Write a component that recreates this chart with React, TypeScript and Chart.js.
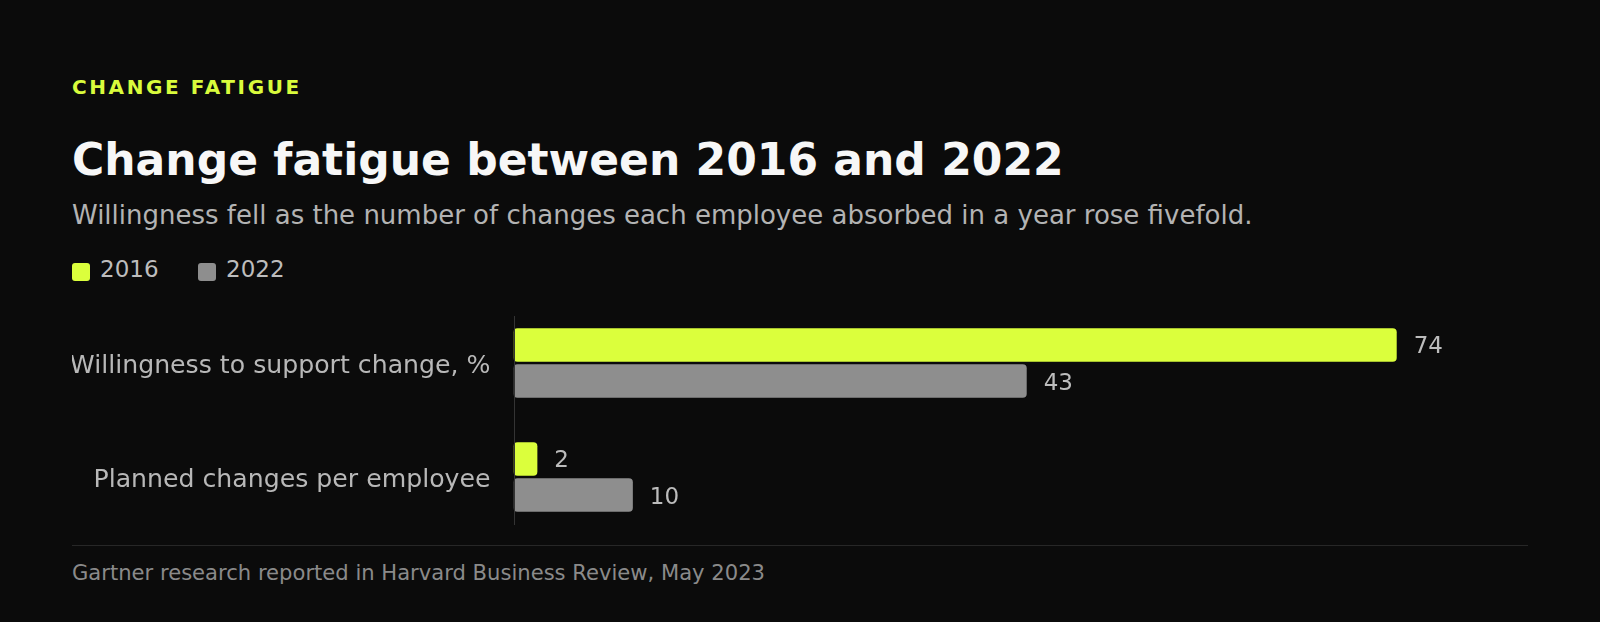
import React, { useEffect, useRef } from "react";
import { Chart, registerables } from "chart.js";

Chart.register(...registerables);

// chart data
const categories = ["Willingness to support change, %", "Planned changes per employee"];
const seriesNames = ["2016", "2022"];
const values2016 = [74, 2];
const values2022 = [43, 10];
const seriesColors = ["#dbff3c", "#8e8e8e"];

const FONT = "'DejaVu Sans', Verdana, sans-serif";

// baseline rule, category names and the value next to each bar
const barExtras = {
    id: "barExtras",
    afterDatasetsDraw(chart: any) {
        const { ctx, chartArea } = chart;
        const x0 = chart.scales.x.getPixelForValue(0);
        const yScale = chart.scales.y;
        ctx.save();
        ctx.strokeStyle = "#343434";
        ctx.lineWidth = 1;
        ctx.beginPath();
        ctx.moveTo(Math.round(x0) + 0.5, chartArea.top + 10);
        ctx.lineTo(Math.round(x0) + 0.5, chartArea.bottom - 9);
        ctx.stroke();

        // category labels
        ctx.font = `25.2px ${FONT}`;
        ctx.fillStyle = "#b8b8b8";
        ctx.textAlign = "right";
        ctx.textBaseline = "alphabetic";
        chart.data.labels.forEach((label: string, i: number) => {
            ctx.fillText(label, x0 - 23, yScale.getPixelForTick(i) + 9.5);
        });

        // values
        ctx.font = `23px ${FONT}`;
        ctx.fillStyle = "#bcbcbc";
        ctx.textAlign = "left";
        chart.data.datasets.forEach((ds: any, i: number) => {
            const meta = chart.getDatasetMeta(i);
            meta.data.forEach((bar: any, j: number) => {
                ctx.fillText(String(ds.data[j]), bar.x + 17, bar.y + 8.5);
            });
        });
        ctx.restore();
    },
};

const ChangeChart: React.FC = () => {
    const canvasRef = useRef<HTMLCanvasElement | null>(null);
    const chartInstance = useRef<Chart<"bar"> | null>(null);

    useEffect(() => {
        if (!canvasRef.current) return;
        if (chartInstance.current !== null) {
            chartInstance.current.destroy();
        }
        const ctx = canvasRef.current.getContext("2d");
        if (!ctx) return;

        chartInstance.current = new Chart(ctx, {
            type: "bar",
            data: {
                labels: categories,
                datasets: [
                    {
                        label: seriesNames[0],
                        data: values2016,
                        backgroundColor: seriesColors[0],
                        borderRadius: 4,
                        borderSkipped: false,
                        categoryPercentage: 0.632,
                        barPercentage: 0.925,
                    },
                    {
                        label: seriesNames[1],
                        data: values2022,
                        backgroundColor: seriesColors[1],
                        borderRadius: 4,
                        borderSkipped: false,
                        categoryPercentage: 0.632,
                        barPercentage: 0.925,
                    },
                ],
            },
            options: {
                indexAxis: "y",
                animation: false,
                responsive: false,
                maintainAspectRatio: false,
                layout: { padding: 0 },
                scales: {
                    x: {
                        display: false,
                        min: 0,
                        max: 85,
                    },
                    y: {
                        grid: { display: false },
                        border: { display: false },
                        ticks: { display: false },
                        afterFit: (scale: any) => {
                            scale.width = 441.5;
                        },
                    },
                },
                plugins: {
                    legend: { display: false },
                    tooltip: { enabled: false },
                },
            },
            plugins: [barExtras],
        });

        return () => {
            if (chartInstance.current !== null) {
                chartInstance.current.destroy();
                chartInstance.current = null;
            }
        };
    }, []);

    return (
        <canvas
            ref={canvasRef}
            width={1456}
            height={228}
            style={{ position: "absolute", left: 72, top: 306, width: 1456, height: 228 }}
        ></canvas>
    );
};

const App: React.FC = () => {
    const text = (extra: React.CSSProperties): React.CSSProperties => ({
        position: "absolute",
        left: 72,
        margin: 0,
        lineHeight: 1,
        whiteSpace: "nowrap",
        fontFamily: FONT,
        ...extra,
    });

    return (
        <div style={{ position: "fixed", inset: 0, background: "#0b0b0b", overflow: "hidden" }}>
            <div style={text({ top: 77, fontSize: 20, fontWeight: "bold", letterSpacing: 2.6, color: "#d9fb3c" })}>
                CHANGE FATIGUE
            </div>
            <div style={text({ top: 138, fontSize: 44, fontWeight: "bold", color: "#f7f7f7" })}>
                Change fatigue between 2016 and 2022
            </div>
            <div style={text({ top: 202, fontSize: 26, color: "#b3b3b3" })}>
                Willingness fell as the number of changes each employee absorbed in a year rose fivefold.
            </div>
            {seriesNames.map((name, i) => (
                <div key={name} style={text({ top: 258, left: 72 + i * 126, fontSize: 23, color: "#bdbdbd", display: "flex", alignItems: "center" })}>
                    <span style={{ display: "inline-block", width: 18, height: 18, borderRadius: 3, background: seriesColors[i], marginRight: 10, marginTop: 4 }}></span>
                    {name}
                </div>
            ))}
            <ChangeChart />
            <div style={{ position: "absolute", left: 72, width: 1456, top: 545, height: 1, background: "#272727" }}></div>
            <div style={text({ top: 562, fontSize: 21.1, color: "#8a8a8a" })}>
                Gartner research reported in Harvard Business Review, May 2023
            </div>
        </div>
    );
};

export default App;
